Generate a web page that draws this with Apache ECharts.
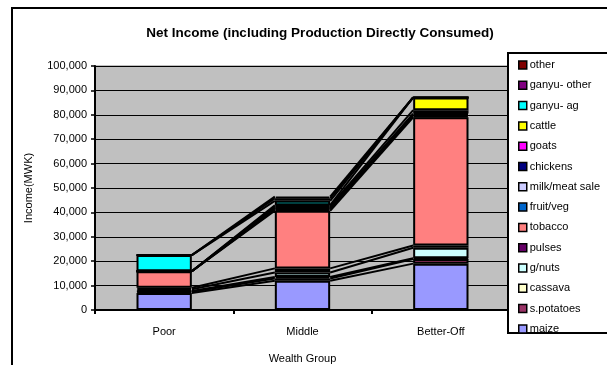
<!DOCTYPE html>
<html>
<head>
<meta charset="utf-8">
<script src="https://cdn.jsdelivr.net/npm/echarts@6/dist/echarts.min.js"></script>
<style>
  html, body { margin: 0; padding: 0; background: #fff; }
  #chart { width: 607px; height: 365px; }
</style>
</head>
<body>
<div id="chart"></div>
<script>
// Wealth groups on the x axis
var categories = ['Poor', 'Middle', 'Better-Off'];

// Income sources, bottom of the stack first (MWK)
var sourceNames = ['maize', 's.potatoes', 'cassava', 'g/nuts', 'pulses', 'tobacco',
  'fruit/veg', 'milk/meat sale', 'chickens', 'goats', 'cattle',
  'ganyu- ag', 'ganyu- other', 'other'];

var maize        = [7000, 12000, 19000];
var sPotatoes    = [500, 900, 1900];
var cassava      = [300, 600, 300];
var gNuts        = [700, 1900, 4300];
var pulses       = [600, 1650, 900];
var tobacco      = [6800, 23600, 52600];
var fruitVeg     = [0, 500, 500];
var milkMeat     = [0, 500, 600];
var chickens     = [0, 400, 400];
var goats        = [0, 500, 1400];
var cattle       = [0, 400, 5200];
var ganyuAg      = [6600, 1800, 0];
var ganyuOther   = [0, 1000, 0];
var other        = [0, 700, 0];

var sourceValues = [maize, sPotatoes, cassava, gNuts, pulses, tobacco,
  fruitVeg, milkMeat, chickens, goats, cattle, ganyuAg, ganyuOther, other];

var sourceColors = ['#9999FF', '#993366', '#FFFFCC', '#CCFFFF', '#660066', '#FF8080',
  '#0066CC', '#CCCCFF', '#000080', '#FF00FF', '#FFFF00', '#00FFFF', '#800080', '#800000'];

var yTicks = { min: 0, max: 100000, interval: 10000 };

// stacked columns
var series = sourceNames.map(function (name, i) {
  return {
    name: name,
    type: 'bar',
    stack: 'income',
    barWidth: '40%',
    z: 3,
    itemStyle: { color: sourceColors[i], borderColor: '#000', borderWidth: 2 },
    data: sourceValues[i]
  };
});

// series lines: join the top of each stacked segment to the same segment in the next column
var linkData = [];
var cum = categories.map(function () { return 0; });
sourceValues.forEach(function (vals) {
  for (var c = 0; c < categories.length; c++) cum[c] += vals[c];
  for (var c2 = 0; c2 < categories.length - 1; c2++) {
    linkData.push([c2, cum[c2], cum[c2 + 1]]);
  }
});

series.push({
  type: 'custom',
  name: 'links',
  z: 2,
  silent: true,
  data: linkData,
  encode: { x: 0, y: 1 },
  renderItem: function (params, api) {
    var p1 = api.coord([api.value(0), api.value(1)]);
    var p2 = api.coord([api.value(0) + 1, api.value(2)]);
    var half = api.size([1, 0])[0] * 0.2;
    return {
      type: 'line',
      shape: { x1: p1[0] + half, y1: p1[1], x2: p2[0] - half, y2: p2[1] },
      style: { stroke: '#000', lineWidth: 2 }
    };
  }
});

var font = 'Liberation Sans, Arial, sans-serif';

var chart = echarts.init(document.getElementById('chart'), null, { renderer: 'canvas' });
chart.setOption({
  animation: false,
  backgroundColor: '#fff',
  textStyle: { fontFamily: font, color: '#000' },
  title: {
    text: 'Net Income (including Production Directly Consumed)',
    left: 315, top: 21, textAlign: 'center',
    textStyle: { fontFamily: font, fontSize: 13.5, fontWeight: 'bold', color: '#000' }
  },
  graphic: [
    // outer chart frame
    { type: 'rect', z: 0, shape: { x: 12, y: 8, width: 640, height: 400 },
      style: { fill: 'none', stroke: '#000', lineWidth: 2 } },
    // legend box
    { type: 'rect', z: 50, shape: { x: 508, y: 53, width: 140, height: 280 },
      style: { fill: '#fff', stroke: '#000', lineWidth: 2 } }
  ],
  grid: {
    left: 95, top: 66, width: 415, bottom: 55,
    outerBoundsMode: 'none',
    containLabel: false,
    show: true, backgroundColor: '#C0C0C0', borderColor: '#808080', borderWidth: 1
  },
  legend: {
    z: 60,
    orient: 'vertical',
    left: 513, top: 54,
    itemWidth: 8, itemHeight: 8, itemGap: 8.3,
    icon: 'rect',
    data: sourceNames.slice().reverse(),
    itemStyle: { borderColor: '#000', borderWidth: 1.5 },
    textStyle: { fontFamily: font, fontSize: 11, color: '#000', lineHeight: 12, padding: [0, 0, 0, -2] }
  },
  xAxis: {
    type: 'category',
    data: categories,
    name: 'Wealth Group',
    nameLocation: 'middle',
    nameGap: 43,
    nameTextStyle: { fontFamily: font, fontSize: 11, color: '#000' },
    axisLine: { lineStyle: { color: '#000', width: 2 } },
    axisTick: { show: true, length: 4, lineStyle: { color: '#000', width: 2 } },
    axisLabel: { margin: 16, fontFamily: font, fontSize: 11, color: '#000' }
  },
  yAxis: {
    type: 'value',
    min: yTicks.min, max: yTicks.max, interval: yTicks.interval,
    name: 'Income(MWK)',
    nameLocation: 'middle',
    nameGap: 61,
    nameTextStyle: { fontFamily: font, fontSize: 11, color: '#000' },
    axisLine: { show: true, lineStyle: { color: '#000', width: 2 } },
    axisTick: { show: true, length: 4, lineStyle: { color: '#000', width: 1.5 } },
    splitLine: { show: true, lineStyle: { color: '#000', width: 1 } },
    axisLabel: {
      margin: 8, fontFamily: font, fontSize: 11, color: '#000',
      formatter: function (v) { return v.toLocaleString('en-US'); }
    }
  },
  series: series
});
</script>
</body>
</html>
